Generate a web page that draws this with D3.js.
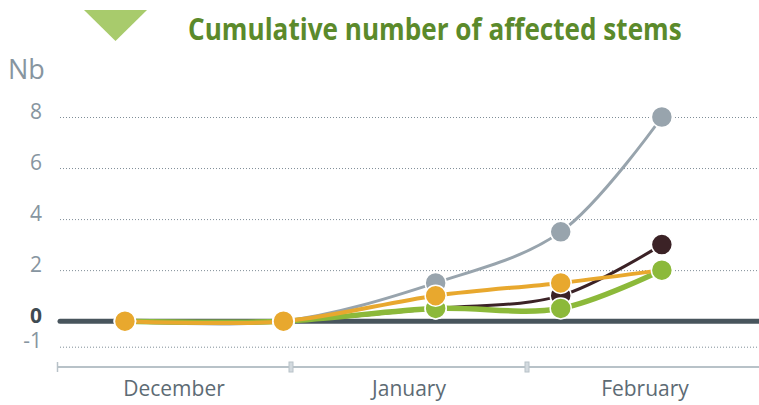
<!DOCTYPE html>
<html>
<head>
<meta charset="utf-8">
<script src="https://cdn.jsdelivr.net/npm/d3@7"></script>
<style>
    body { margin: 0; background: #fff; }
    svg { display: block; font-family: 'Open Sans', sans-serif; }
</style>
</head>
<body>
<div id="chart"></div>
<script>
const dates = ['2012-12-10', '2012-12-31', '2013-01-20', '2013-02-05', '2013-02-17']
const months = ['December', 'January', 'February']
const monthStarts = ['2012-12-01', '2013-01-01', '2013-02-01', '2013-03-01']
const grayValues = [0, 0, 1.5, 3.5, 8]
const darkValues = [0, 0, 0.5, 1, 3]
const greenValues = [0, 0, 0.5, 0.5, 2]
const orangeValues = [0, 0, 1, 1.5, 2]
const yTicks = [8, 6, 4, 2, 0, -1]

const createGraph = () => {
    const width = 759
    const height = 405
    const parse = d3.timeParse('%Y-%m-%d')

    // series drawn in this order, last one on top; orange has no marker on its last point
    const series = [
        { name: 'gray', color: '#98a4ad', width: 3, values: grayValues, markers: 5 },
        { name: 'dark', color: '#3b2226', width: 3, values: darkValues, markers: 5 },
        { name: 'green', color: '#8cb93a', width: 5.5, values: greenValues, markers: 5 },
        { name: 'orange', color: '#e8a82e', width: 4, values: orangeValues, markers: 4 }
    ]

    const x = d3.scaleTime()
        .domain(monthStarts.map(parse))
        .range([57, 291, 527, 763])
    const y = d3.scaleLinear().domain([-1, 8]).range([346.7, 117])

    const svg = d3.select('#chart')
        .append('svg')
        .attr('width', width)
        .attr('height', height)

    // title + triangle
    svg.append('path')
        .attr('d', 'M84,10 L147,10 L115.5,41 Z')
        .attr('fill', '#a8cb6c')
    const title = svg.append('text')
        .attr('font-size', 31)
        .attr('font-weight', 'bold')
        .attr('fill', '#5b8a2b')
        .text('Cumulative number of affected stems')
    // squeeze horizontally to the narrow title width of the original
    const titleLen = title.node().getComputedTextLength()
    title.attr('transform', `translate(188, 40) scale(${494 / titleLen}, 1)`)

    svg.append('text')
        .attr('x', 8)
        .attr('y', 79)
        .attr('font-size', 27)
        .attr('fill', '#8795a0')
        .text('Nb')

    // grid
    svg.selectAll('.grid')
        .data(yTicks.filter((d) => d !== 0))
        .enter()
        .append('line')
        .attr('class', 'grid')
        .attr('x1', 60)
        .attr('x2', width)
        .attr('y1', (d) => y(d) + 0.5)
        .attr('y2', (d) => y(d) + 0.5)
        .attr('stroke', '#7f8d97')
        .attr('stroke-width', 1)
        .attr('stroke-dasharray', '1,2')

    svg.selectAll('.ylabel')
        .data(yTicks)
        .enter()
        .append('text')
        .attr('class', 'ylabel')
        .attr('x', 42)
        .attr('y', (d) => y(d) + 1.5)
        .attr('text-anchor', 'end')
        .attr('font-size', 21)
        .attr('font-weight', (d) => d === 0 ? 'bold' : 'normal')
        .attr('fill', (d) => d === 0 ? '#3f4b52' : '#8795a0')
        .text((d) => d)

    // x axis
    const monthDates = monthStarts.map(parse)
    svg.append('line')
        .attr('x1', x(monthDates[0]))
        .attr('x2', width)
        .attr('y1', 367)
        .attr('y2', 367)
        .attr('stroke', '#b8c2c8')
        .attr('stroke-width', 2)
    svg.append('line')
        .attr('x1', x(monthDates[0]) + 0.5)
        .attr('x2', x(monthDates[0]) + 0.5)
        .attr('y1', 362)
        .attr('y2', 372)
        .attr('stroke', '#b8c2c8')
        .attr('stroke-width', 1.5)
    svg.selectAll('.xtick')
        .data(monthDates.slice(1, 3))
        .enter()
        .append('rect')
        .attr('class', 'xtick')
        .attr('x', (d) => x(d) - 2)
        .attr('y', 362)
        .attr('width', 4)
        .attr('height', 10)
        .attr('fill', '#d3dadf')
        .attr('stroke', '#b8c2c8')
        .attr('stroke-width', 1)
    svg.selectAll('.xlabel')
        .data(months)
        .enter()
        .append('text')
        .attr('class', 'xlabel')
        .attr('x', (d, i) => (x(monthDates[i]) + x(monthDates[i + 1])) / 2)
        .attr('y', 396)
        .attr('text-anchor', 'middle')
        .attr('font-size', 21)
        .attr('fill', '#5d6b74')
        .text((d) => d)

    // zero line
    svg.append('line')
        .attr('x1', 60)
        .attr('x2', width + 5)
        .attr('y1', y(0))
        .attr('y2', y(0))
        .attr('stroke', '#48555d')
        .attr('stroke-width', 5)
        .attr('stroke-linecap', 'round')

    const line = d3.line()
        .x((d) => x(d.date))
        .y((d) => y(d.value))
        .curve(d3.curveCatmullRom.alpha(0.5))

    series.forEach((s) => {
        s.points = s.values.map((v, i) => ({ date: parse(dates[i]), value: v }))
        svg.append('path')
            .datum(s.points)
            .attr('d', line)
            .attr('fill', 'none')
            .attr('stroke', s.color)
            .attr('stroke-width', s.width)
    })

    series.forEach((s) => {
        svg.selectAll('.dot-' + s.name)
            .data(s.points.slice(0, s.markers))
            .enter()
            .append('circle')
            .attr('class', 'dot-' + s.name)
            .attr('cx', (d) => x(d.date))
            .attr('cy', (d) => y(d.value))
            .attr('r', 10.5)
            .attr('fill', s.color)
            .attr('stroke', '#fff')
            .attr('stroke-width', 1.5)
    })
}

createGraph()
</script>
</body>
</html>
